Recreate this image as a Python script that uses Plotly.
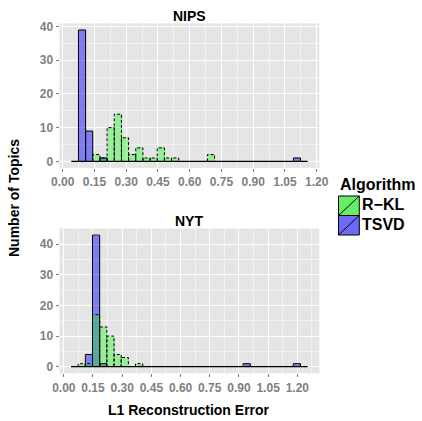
import plotly.graph_objects as go

# ---------------- data (histogram counts) ----------------
nips_bin_start = 0.0406
nips_bin_width = 0.03384
nips_tsvd = [0, 39, 9, 0, 1, 0, 0, 0, 0, 0,
             0, 0, 0, 0, 0, 0, 0, 0, 0, 0,
             0, 0, 0, 0, 0, 0, 0, 0, 0, 0,
             0, 1, 0]
nips_rkl = [0, 0, 0, 2, 1, 10, 14, 7, 2, 4,
            1, 1, 4, 1, 1, 0, 0, 0, 0, 2,
            0, 0, 0, 0, 0, 0, 0, 0, 0, 0,
            0, 0, 0]

nyt_bin_start = 0.037
nyt_bin_width = 0.03685
nyt_tsvd = [0, 0, 4, 43, 1, 0, 0, 0, 0, 0,
            0, 0, 0, 0, 0, 0, 0, 0, 0, 0,
            0, 0, 0, 0, 1, 0, 0, 0, 0, 0,
            0, 1, 0]
nyt_rkl = [0, 1, 1, 17, 13, 10, 4, 3, 0, 1,
           0, 0, 0, 0, 0, 0, 0, 0, 0, 0,
           0, 0, 0, 0, 0, 0, 0, 0, 0, 0,
           0, 0, 0]

panel_titles = ["NIPS", "NYT"]
series_names = ["R\u2212KL", "TSVD"]
x_tick_vals = [0.00, 0.15, 0.30, 0.45, 0.60, 0.75, 0.90, 1.05, 1.20]
y_tick_vals = [0, 10, 20, 30, 40]

# ---------------- styling ----------------
W, H = 422, 421
BLUE = "rgba(0,0,255,0.45)"
GREEN = "rgba(0,255,0,0.35)"
FONT = "Liberation Sans, Arial, Helvetica, sans-serif"


def px(x):
    return x / W


def py(y):
    return 1 - y / H


fig = go.Figure()


def add_panel(start, width, tsvd, rkl, xa, ya):
    n = len(tsvd)
    centers = [start + (i + 0.5) * width for i in range(n)]
    # TSVD bars (blue, solid outline)
    fig.add_trace(go.Bar(x=centers, y=tsvd, width=[width] * n, marker=dict(color=BLUE, line=dict(width=0)),
                         xaxis=xa, yaxis=ya, showlegend=False, hoverinfo="skip"))
    ox, oy = [], []
    for i, c in enumerate(tsvd):
        if c > 0:
            l, r = start + i * width, start + (i + 1) * width
            ox += [l, l, r, r, None]
            oy += [0, c, c, 0, None]
    fig.add_trace(go.Scatter(x=ox, y=oy, mode="lines", line=dict(color="black", width=1),
                             xaxis=xa, yaxis=ya, showlegend=False, hoverinfo="skip"))
    # R-KL bars (green, dashed outline)
    fig.add_trace(go.Bar(x=centers, y=rkl, width=[width] * n, marker=dict(color=GREEN, line=dict(width=0)),
                         xaxis=xa, yaxis=ya, showlegend=False, hoverinfo="skip"))
    ox, oy = [], []
    for i, c in enumerate(rkl):
        if c > 0:
            l, r = start + i * width, start + (i + 1) * width
            ox += [l, l, r, r, None]
            oy += [0, c, c, 0, None]
    fig.add_trace(go.Scatter(x=ox, y=oy, mode="lines", line=dict(color="black", width=1, dash="3px,2px"),
                             xaxis=xa, yaxis=ya, showlegend=False, hoverinfo="skip"))
    # baseline of zero-height bins
    fig.add_trace(go.Scatter(x=[start, start + n * width], y=[0, 0], mode="lines",
                             line=dict(color="black", width=1.2),
                             xaxis=xa, yaxis=ya, showlegend=False, hoverinfo="skip"))


add_panel(nips_bin_start, nips_bin_width, nips_tsvd, nips_rkl, "x", "y")
add_panel(nyt_bin_start, nyt_bin_width, nyt_tsvd, nyt_rkl, "x2", "y2")

xdom = [px(59.5), px(319.3)]
tickfont = dict(family=FONT, size=12, color="#7F7F7F", weight="bold")


def xaxis(rng, anchor):
    return dict(domain=xdom, range=rng, anchor=anchor, tickvals=x_tick_vals,
                tickformat=".2f", ticks="outside", ticklen=3, tickcolor="#7F7F7F",
                showgrid=True, gridcolor="white", gridwidth=1.1, zeroline=False,
                showline=False, tickfont=tickfont, fixedrange=True, automargin=False,
                minor=dict(tickvals=[v + 0.075 for v in x_tick_vals] + [-0.075],
                           showgrid=True, gridcolor="#F2F2F2", gridwidth=0.5))


def yaxis(rng, dom, anchor):
    return dict(domain=dom, range=rng, anchor=anchor, tickvals=y_tick_vals,
                ticks="outside", ticklen=3, tickcolor="#7F7F7F",
                showgrid=True, gridcolor="white", gridwidth=1.1, zeroline=False,
                showline=False, tickfont=tickfont, fixedrange=True, automargin=False,
                minor=dict(tickvals=[5, 15, 25, 35, 45], showgrid=True,
                           gridcolor="#F2F2F2", gridwidth=0.5))


shapes = []
# manual legend keys
for (y0, y1, col) in [(196, 215.5, "#66EE66"), (215.5, 235, "#6B6BF5")]:
    shapes.append(dict(type="rect", xref="paper", yref="paper",
                       x0=px(338.5), x1=px(359.3), y0=py(y1), y1=py(y0),
                       fillcolor=col, line=dict(color="black", width=1)))
    shapes.append(dict(type="line", xref="paper", yref="paper",
                       x0=px(338.5), x1=px(359.3), y0=py(y1), y1=py(y0),
                       line=dict(color="black", width=1)))

annotations = [
    dict(text=panel_titles[0], x=(xdom[0] + xdom[1]) / 2, y=py(15.7), xref="paper", yref="paper",
         showarrow=False, font=dict(family=FONT, size=14, color="black", weight="bold"),
         xanchor="center", yanchor="middle"),
    dict(text=panel_titles[1], x=(xdom[0] + xdom[1]) / 2, y=py(220.7), xref="paper", yref="paper",
         showarrow=False, font=dict(family=FONT, size=14, color="black", weight="bold"),
         xanchor="center", yanchor="middle"),
    dict(text="Number of Topics", x=px(14), y=py(198), xref="paper", yref="paper", textangle=-90,
         showarrow=False, font=dict(family=FONT, size=14, color="black", weight="bold"),
         xanchor="center", yanchor="middle"),
    dict(text="L1 Reconstruction Error", x=(xdom[0] + xdom[1]) / 2, y=py(410), xref="paper", yref="paper",
         showarrow=False, font=dict(family=FONT, size=14, color="black", weight="bold"),
         xanchor="center", yanchor="middle"),
    dict(text="Algorithm", x=px(337.5), y=py(184), xref="paper", yref="paper",
         showarrow=False, font=dict(family=FONT, size=16, color="black", weight="bold"),
         xanchor="left", yanchor="middle"),
    dict(text=series_names[0], x=px(360), y=py(204), xref="paper", yref="paper",
         showarrow=False, font=dict(family=FONT, size=16, color="black", weight="bold"),
         xanchor="left", yanchor="middle"),
    dict(text=series_names[1], x=px(360), y=py(224), xref="paper", yref="paper",
         showarrow=False, font=dict(family=FONT, size=16, color="black", weight="bold"),
         xanchor="left", yanchor="middle"),
]

fig.update_layout(
    width=W, height=H, margin=dict(l=0, r=0, t=0, b=0, autoexpand=False),
    paper_bgcolor="white", plot_bgcolor="#E5E5E5",
    barmode="overlay", bargap=0, showlegend=False,
    xaxis=xaxis([-0.0151, 1.2121], "y"),
    yaxis=yaxis([-1.95, 40.95], [py(167.9), py(23.4)], "x"),
    xaxis2=xaxis([-0.0221, 1.313], "y2"),
    yaxis2=yaxis([-2.15, 45.15], [py(373.3), py(228.5)], "x2"),
    shapes=shapes, annotations=annotations,
    font=dict(family=FONT),
)

fig.write_html("out.html", config={"displayModeBar": False},
               post_script="document.body.style.margin='0px';document.body.style.overflow='hidden';")
